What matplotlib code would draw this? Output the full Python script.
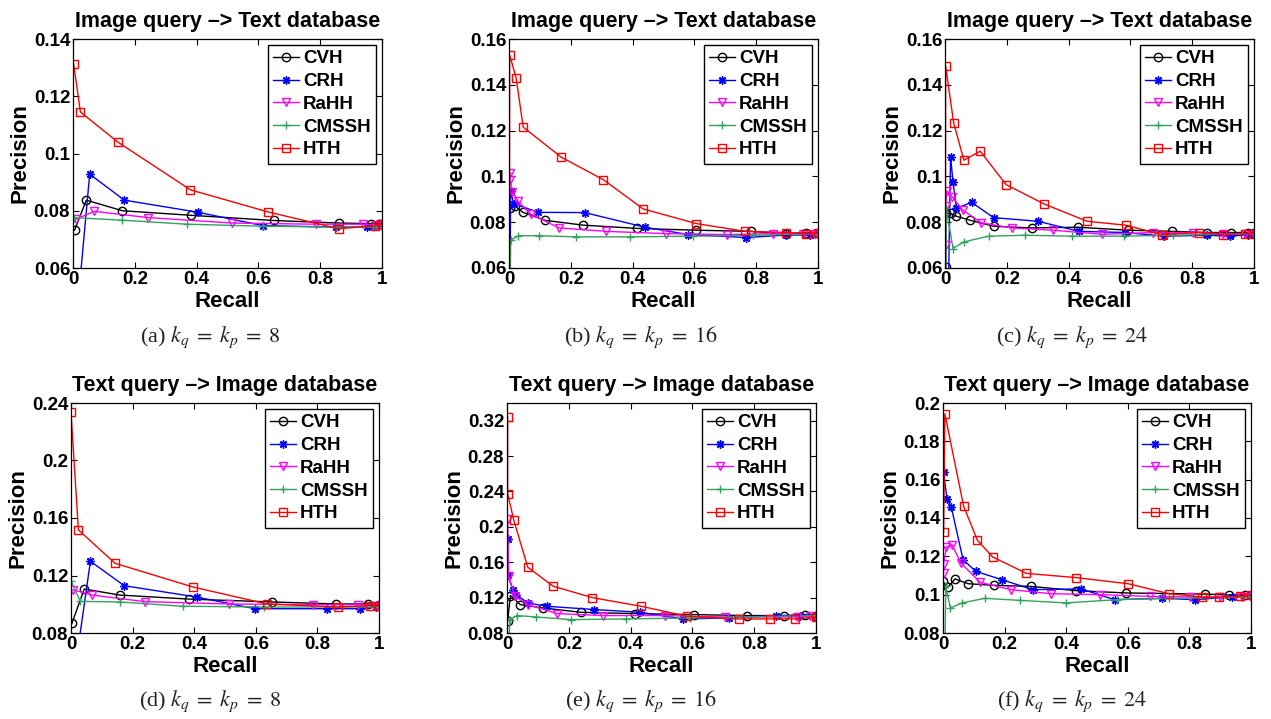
#!/usr/bin/env python
"""
Precision-recall curves, image<->text cross-modal retrieval, six panels
"""
import matplotlib
matplotlib.use('Agg')
from matplotlib import pyplot as plt
from matplotlib.ticker import FuncFormatter

plt.rcParams['font.family'] = 'Liberation Sans'
plt.rcParams['font.weight'] = 'normal'
plt.rcParams['axes.titleweight'] = 'bold'
plt.rcParams['axes.labelweight'] = 'bold'
plt.rcParams['mathtext.fontset'] = 'stix'

methods = ['CVH', 'CRH', 'RaHH', 'CMSSH', 'HTH']
colors = ['black', 'blue', 'magenta', '#33a35c', 'red']
markers = ['o', (8, 2, 0), 'v', '+', 's']

titles = ['Image query \u2013> Text database'] * 3 + ['Text query \u2013> Image database'] * 3
captions = ['(a) $k_q\\;=\\;k_p\\;=\\;8$', '(b) $k_q\\;=\\;k_p\\;=\\;16$', '(c) $k_q\\;=\\;k_p\\;=\\;24$',
            '(d) $k_q\\;=\\;k_p\\;=\\;8$', '(e) $k_q\\;=\\;k_p\\;=\\;16$', '(f) $k_q\\;=\\;k_p\\;=\\;24$']
ylims = [(0.06, 0.14), (0.06, 0.16), (0.06, 0.16), (0.08, 0.24), (0.08, 0.34), (0.08, 0.2)]
ysteps = [0.02, 0.02, 0.02, 0.04, 0.04, 0.02]
xticks = [0, 0.2, 0.4, 0.6, 0.8, 1]

# (recall, precision), one pair per method and panel

# (a) image query, k=8
cvh_a = ([0.005, 0.043, 0.16, 0.383, 0.649, 0.861, 0.966, 0.99, 1.0],
         [0.0732, 0.0837, 0.0800, 0.0784, 0.0766, 0.0757, 0.0755, 0.0754, 0.0753])
crh_a = ([0.018, 0.054, 0.166, 0.403, 0.615, 0.85, 0.95, 0.98, 1.0],
         [0.050, 0.0928, 0.0837, 0.0795, 0.0748, 0.0743, 0.0743, 0.0746, 0.0749])
rahh_a = ([0.009, 0.069, 0.244, 0.516, 0.785, 0.94, 0.98, 1.0],
          [0.0770, 0.0798, 0.0776, 0.0757, 0.0753, 0.0753, 0.0750, 0.0748])
cmssh_a = ([0.002, 0.16, 0.369, 0.615, 0.85, 0.97, 1.0],
           [0.0776, 0.0767, 0.0753, 0.0746, 0.0743, 0.0743, 0.0743])
hth_a = ([0.002, 0.024, 0.145, 0.38, 0.631, 0.861, 0.976, 1.0],
         [0.1313, 0.1145, 0.1040, 0.0873, 0.0796, 0.0737, 0.0748, 0.0753])

# (b) image query, k=16
cvh_b = ([0.002, 0.02, 0.045, 0.117, 0.241, 0.414, 0.606, 0.784, 0.897, 0.962, 1.0],
         [0.086, 0.087, 0.0843, 0.0808, 0.0787, 0.0773, 0.0765, 0.076, 0.075, 0.0755, 0.0755])
crh_b = ([0.003, 0.005, 0.015, 0.095, 0.245, 0.44, 0.58, 0.768, 0.897, 0.973, 1.0],
         [0.0, 0.0937, 0.0881, 0.0843, 0.0842, 0.0778, 0.0746, 0.0733, 0.0744, 0.0744, 0.075])
rahh_b = ([0.004, 0.004, 0.011, 0.029, 0.07, 0.162, 0.315, 0.509, 0.705, 0.854, 0.951, 0.99, 1.0],
          [0.1015, 0.0983, 0.0932, 0.0892, 0.0836, 0.0775, 0.076, 0.075, 0.0746, 0.075, 0.075, 0.0748, 0.075])
cmssh_b = ([0.003, 0.005, 0.03, 0.097, 0.218, 0.39, 0.595, 0.79, 1.0],
           [0.0, 0.0721, 0.0741, 0.0741, 0.0736, 0.0736, 0.0739, 0.0743, 0.075])
hth_b = ([0.001, 0.002, 0.023, 0.046, 0.169, 0.305, 0.434, 0.606, 0.765, 0.897, 0.962, 1.0],
         [0.0, 0.1531, 0.143, 0.1215, 0.1084, 0.0986, 0.0858, 0.0794, 0.076, 0.0755, 0.075, 0.0753])

# (c) image query, k=24
cvh_c = ([0.002, 0.002, 0.018, 0.037, 0.082, 0.159, 0.28, 0.431, 0.593, 0.736, 0.849, 0.927, 0.98, 1.0],
         [0.0603, 0.0838, 0.0838, 0.0826, 0.0808, 0.0782, 0.0775, 0.0778, 0.0765, 0.076, 0.0755, 0.0755, 0.0755, 0.0755])
crh_c = ([0.005, 0.018, 0.026, 0.037, 0.086, 0.157, 0.301, 0.434, 0.581, 0.71, 0.849, 0.921, 0.98, 1.0],
         [0.0, 0.1085, 0.0976, 0.086, 0.0887, 0.082, 0.0804, 0.076, 0.0755, 0.0739, 0.0743, 0.0739, 0.0745, 0.075])
rahh_c = ([0.002, 0.002, 0.006, 0.024, 0.058, 0.118, 0.217, 0.35, 0.509, 0.673, 0.803, 0.9, 0.97, 1.0],
          [0.0702, 0.0871, 0.0937, 0.091, 0.0852, 0.0797, 0.0775, 0.0765, 0.0747, 0.0755, 0.0755, 0.075, 0.075, 0.075])
cmssh_c = ([0.002, 0.004, 0.026, 0.061, 0.141, 0.26, 0.411, 0.578, 0.738, 1.0],
           [0.0, 0.086, 0.0685, 0.0714, 0.0739, 0.0743, 0.0739, 0.0739, 0.0743, 0.075])
hth_c = ([0.001, 0.002, 0.028, 0.061, 0.114, 0.198, 0.32, 0.46, 0.585, 0.701, 0.821, 0.9, 0.97, 1.0],
         [0.0, 0.1482, 0.1234, 0.1071, 0.111, 0.0964, 0.088, 0.0804, 0.0787, 0.0746, 0.0755, 0.0746, 0.075, 0.075])

# (d) text query, k=8
cvh_d = ([0.003, 0.043, 0.158, 0.382, 0.653, 0.861, 0.964, 1.0],
         [0.0867, 0.1106, 0.1064, 0.1036, 0.1016, 0.1002, 0.1002, 0.0997])
crh_d = ([0.018, 0.063, 0.173, 0.408, 0.597, 0.832, 0.938, 0.99, 1.0],
         [0.062, 0.1299, 0.1129, 0.105, 0.0969, 0.0969, 0.0969, 0.098, 0.0986])
rahh_d = ([0.006, 0.068, 0.24, 0.512, 0.785, 0.933, 0.99, 1.0],
          [0.1101, 0.1064, 0.1018, 0.1002, 0.0997, 0.0997, 0.099, 0.0986])
cmssh_d = ([0.001, 0.03, 0.158, 0.363, 0.625, 1.0],
           [0.116, 0.102, 0.1016, 0.0986, 0.0981, 0.0981])
hth_d = ([0.0, 0.024, 0.143, 0.396, 0.636, 0.866, 0.971, 1.0],
         [0.2335, 0.1517, 0.1285, 0.112, 0.1002, 0.0981, 0.099, 0.099])

# (e) text query, k=16
cvh_e = ([0.002, 0.011, 0.043, 0.117, 0.239, 0.415, 0.606, 0.778, 0.895, 0.965, 1.0],
         [0.0932, 0.1223, 0.1121, 0.1083, 0.1034, 0.1019, 0.1008, 0.0997, 0.0997, 0.1008, 0.0997])
crh_e = ([0.002, 0.002, 0.019, 0.03, 0.067, 0.129, 0.283, 0.432, 0.569, 0.717, 0.872, 0.949, 1.0],
         [0.1858, 0.1461, 0.1291, 0.1235, 0.114, 0.1102, 0.1065, 0.1034, 0.0959, 0.097, 0.0997, 0.0997, 0.1008])
rahh_e = ([0.002, 0.005, 0.026, 0.068, 0.162, 0.311, 0.51, 0.704, 0.938, 0.98, 1.0],
          [0.2085, 0.1442, 0.1216, 0.1121, 0.1019, 0.0997, 0.0997, 0.0981, 0.0981, 0.099, 0.0981])
cmssh_e = ([0.002, 0.009, 0.032, 0.094, 0.207, 0.386, 0.591, 1.0],
           [0.0, 0.0951, 0.0997, 0.0981, 0.0951, 0.0959, 0.097, 0.0997])
hth_e = ([0.002, 0.002, 0.022, 0.067, 0.149, 0.276, 0.434, 0.583, 0.75, 0.85, 0.933, 1.0],
         [0.3245, 0.2376, 0.2074, 0.1545, 0.1329, 0.12, 0.1102, 0.0989, 0.0959, 0.0959, 0.0959, 0.0981])

# (f) text query, k=24
cvh_f = ([0.0, 0.015, 0.039, 0.082, 0.164, 0.286, 0.432, 0.595, 0.851, 0.927, 0.98, 1.0],
         [0.107, 0.1038, 0.1082, 0.1057, 0.1049, 0.1043, 0.1021, 0.1009, 0.1003, 0.0998, 0.0998, 0.0998])
crh_f = ([0.002, 0.013, 0.027, 0.065, 0.106, 0.191, 0.292, 0.448, 0.557, 0.711, 0.817, 0.938, 1.0],
         [0.1638, 0.1499, 0.1457, 0.1183, 0.1122, 0.1078, 0.1026, 0.103, 0.0974, 0.0981, 0.0974, 0.0988, 0.0995])
rahh_f = ([0.002, 0.002, 0.011, 0.029, 0.058, 0.121, 0.221, 0.351, 0.51, 0.672, 0.802, 0.9, 0.97, 1.0],
          [0.1113, 0.1162, 0.1249, 0.1261, 0.1165, 0.1064, 0.1026, 0.1005, 0.1, 0.0991, 0.0988, 0.0988, 0.0988, 0.0988])
cmssh_f = ([0.001, 0.009, 0.024, 0.062, 0.136, 0.251, 0.4, 0.564, 0.735, 1.0],
           [0.0, 0.1043, 0.093, 0.0957, 0.0981, 0.097, 0.0957, 0.0974, 0.0981, 0.0988])
hth_f = ([0.002, 0.006, 0.067, 0.112, 0.161, 0.271, 0.432, 0.601, 0.734, 0.84, 0.897, 0.964, 1.0],
         [0.1325, 0.1944, 0.1461, 0.1283, 0.1197, 0.1111, 0.1089, 0.1057, 0.1005, 0.0988, 0.0986, 0.0991, 0.0998])

panels = [
    [cvh_a, crh_a, rahh_a, cmssh_a, hth_a],
    [cvh_b, crh_b, rahh_b, cmssh_b, hth_b],
    [cvh_c, crh_c, rahh_c, cmssh_c, hth_c],
    [cvh_d, crh_d, rahh_d, cmssh_d, hth_d],
    [cvh_e, crh_e, rahh_e, cmssh_e, hth_e],
    [cvh_f, crh_f, rahh_f, cmssh_f, hth_f],
]

fig = plt.figure(figsize=(12.71, 7.19), dpi=100)

W, H = 1271.0, 719.0
# axes boxes in pixels: left, top, right, bottom
boxes = [(73, 39, 382, 268), (509, 39, 818, 268), (945, 39, 1254, 268),
         (71, 403, 379, 633), (507, 403, 816, 633), (943, 403, 1251, 633)]
cap_x = [210, 641, 1072, 210, 641, 1072]
cap_y = [337, 337, 337, 701, 701, 701]

fmt = FuncFormatter(lambda v, _: '%g' % round(v, 4))

for i, series in enumerate(panels):
    l, t, r, b = boxes[i]
    ax = fig.add_axes([l / W, 1 - b / H, (r - l) / W, (b - t) / H])
    for j, (rec, prec) in enumerate(series):
        ax.plot(rec, prec, color=colors[j], marker=markers[j], markersize=6,
                markerfacecolor='none', markeredgecolor=colors[j], markeredgewidth=1.0,
                linewidth=1.0, label=methods[j])
    lo, hi = ylims[i]
    ax.set_xlim(0, 1)
    ax.set_ylim(lo, hi)
    ax.set_xticks(xticks)
    step = ysteps[i]
    n = int(round((hi - lo) / step))
    ax.set_yticks([lo + k * step for k in range(n + 1) if lo + k * step <= hi + 1e-9])
    ax.xaxis.set_major_formatter(fmt)
    ax.yaxis.set_major_formatter(fmt)
    ax.tick_params(direction='in', top=True, right=True, length=4, width=0.8,
                   labelsize=13.5, pad=2)
    plt.setp(ax.get_xticklabels() + ax.get_yticklabels(), fontweight='bold')
    for s in ax.spines.values():
        s.set_linewidth(0.9)
    ax.set_title(titles[i], fontsize=15.5, fontweight='bold', pad=9)
    ax.set_xlabel('Recall', fontsize=16, fontweight='bold', labelpad=2)
    ax.set_ylabel('Precision', fontsize=16, fontweight='bold', labelpad=2)
    leg = ax.legend(loc='upper right', prop={'weight': 'bold', 'size': 13.5}, fancybox=False,
                    edgecolor='black', framealpha=1, borderaxespad=0.3, handlelength=1.4,
                    handletextpad=0.2, labelspacing=0.3, borderpad=0.3)
    leg.get_frame().set_linewidth(1.0)
    fig.text(cap_x[i] / W, 1 - cap_y[i] / H, captions[i], family='Liberation Serif',
             fontweight='normal', fontsize=16, color='#222222', ha='center', va='center')

fig.savefig('out.png', dpi=100)
